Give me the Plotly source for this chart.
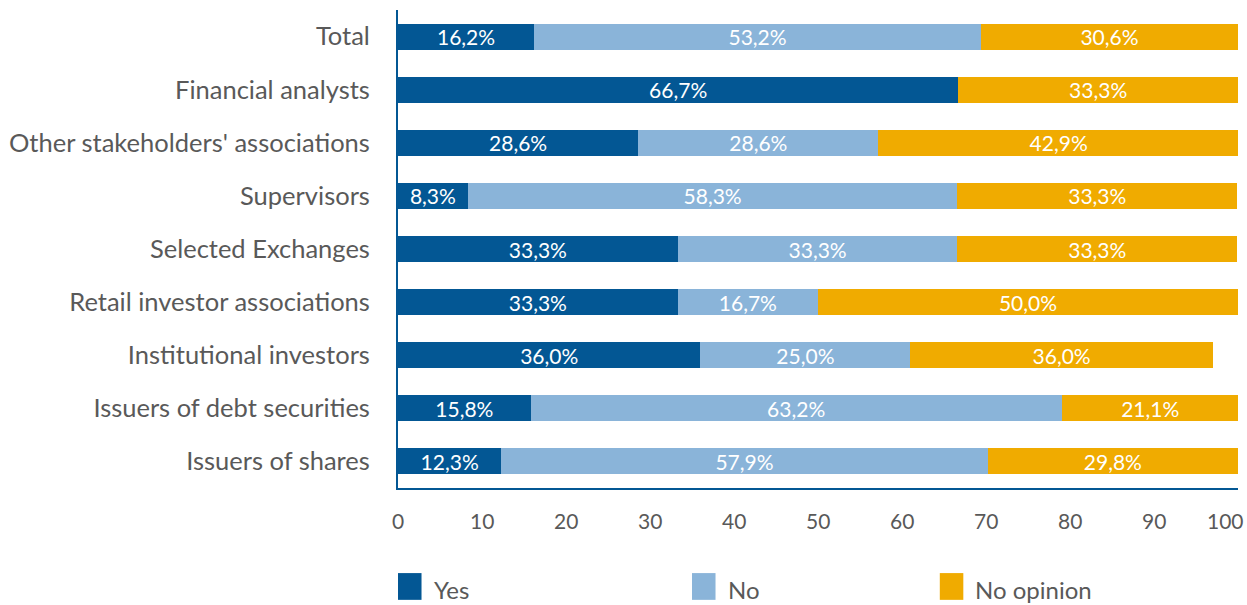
import plotly.graph_objects as go

categories = [
    "Issuers of shares",
    "Issuers of debt securities",
    "Institutional investors",
    "Retail investor associations",
    "Selected Exchanges",
    "Supervisors",
    "Other stakeholders' associations",
    "Financial analysts",
    "Total",
]
yes_vals = [12.3, 15.8, 36.0, 33.3, 33.3, 8.3, 28.6, 66.7, 16.2]
no_vals = [57.9, 63.2, 25.0, 16.7, 33.3, 58.3, 28.6, None, 53.2]
noop_vals = [29.8, 21.1, 36.0, 50.0, 33.3, 33.3, 42.9, 33.3, 30.6]
series_names = ["Yes", "No", "No opinion"]
series_colors = ["#035794", "#8AB4D9", "#F0AB00"]
x_ticks = [0, 10, 20, 30, 40, 50, 60, 70, 80, 90, 100]

FONT = "Lato"
GREY = "#595959"


def fmt(v):
    return "" if v is None else f"{v:.1f}%".replace(".", ",")


fig = go.Figure()
for name, vals, color in zip(series_names, [yes_vals, no_vals, noop_vals], series_colors):
    fig.add_trace(go.Bar(
        y=categories,
        x=[0 if v is None else v for v in vals],
        name=name,
        orientation="h",
        marker=dict(color=color, line=dict(width=0)),
        width=0.49,
        text=[fmt(v) for v in vals],
        textposition="inside",
        insidetextanchor="middle",
        textangle=0,
        constraintext="none",
        textfont=dict(family=FONT, size=21, color="white"),
        hoverinfo="skip",
        showlegend=False,
    ))

# x tick labels placed at their axis values; the last one is kept inside the page
for t in x_ticks:
    last = t == x_ticks[-1]
    fig.add_annotation(xref="x", yref="paper", x=t, y=0, yanchor="top", yshift=-18,
                       xanchor="right" if last else "center", xshift=8 if last else 0,
                       text=str(t), showarrow=False,
                       font=dict(family=FONT, size=21, color=GREY))

# legend drawn as tall swatches with labels underneath the axis
legend_x = [0.0, 0.35, 0.645]
for name, color, lx in zip(series_names, series_colors, legend_x):
    fig.add_shape(type="rect", xref="paper", yref="paper",
                  x0=lx, x1=lx + 0.028, y0=-0.234, y1=-0.178,
                  fillcolor=color, line=dict(width=0))
    fig.add_annotation(xref="paper", yref="paper", x=lx + 0.04, y=-0.212,
                       text=name, showarrow=False, xanchor="left", yanchor="middle",
                       font=dict(family=FONT, size=24, color=GREY))

fig.update_layout(
    barmode="stack",
    width=1247, height=605,
    margin=dict(l=398, r=9, t=10, b=117),
    plot_bgcolor="white", paper_bgcolor="white",
    font=dict(family=FONT, color=GREY),
    uniformtext=dict(minsize=21, mode="show"),
    xaxis=dict(
        range=[0, 100], tickvals=x_ticks, showgrid=False, zeroline=False,
        showline=True, linecolor="#035794", linewidth=2,
        showticklabels=False, ticks="", automargin=False,
    ),
    yaxis=dict(
        range=[-0.5, 8.5], showgrid=False, zeroline=False,
        showline=True, linecolor="#035794", linewidth=2,
        tickfont=dict(family=FONT, size=25.5, color=GREY),
        ticks="", ticklabelstandoff=21, automargin=False,
    ),
)

fig.write_html("out.html")
